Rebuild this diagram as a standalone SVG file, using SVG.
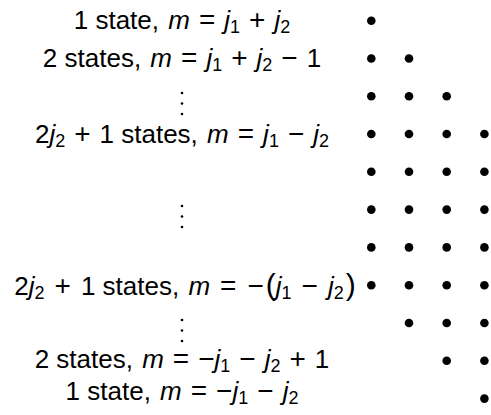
<svg xmlns="http://www.w3.org/2000/svg" width="491" height="415" viewBox="0 0 491 415">
<style>
.t{font-family:"Liberation Sans",Arial,sans-serif;font-size:26px;fill:#000;text-anchor:middle;white-space:pre}
.i{font-style:italic}
.s{font-size:18px}
.o{font-size:28px}
.p{font-size:30px}
.d{fill:#000}
.v{fill:#000}
</style>
<rect width="491" height="415" fill="#fff"/>
<g id="labels">
<text class="t" x="182" y="29">1 state, <tspan class="i" dx="2">m</tspan><tspan class="o" dx="9">=</tspan><tspan class="i" dx="9">j</tspan><tspan class="s" dy="4">1</tspan><tspan class="o" dy="-4" dx="9">+</tspan><tspan class="i" dx="9">j</tspan><tspan class="s" dy="4">2</tspan></text>
<text class="t" x="182" y="66.5">2 states, <tspan class="i" dx="2">m</tspan><tspan class="o" dx="9">=</tspan><tspan class="i" dx="9">j</tspan><tspan class="s" dy="4">1</tspan><tspan class="o" dy="-4" dx="9">+</tspan><tspan class="i" dx="9">j</tspan><tspan class="s" dy="4">2</tspan><tspan class="o" dy="-4" dx="9">−</tspan><tspan dx="9">1</tspan></text>
<g id="vdots1"><circle class="v" cx="182" cy="93" r="1.3"/><circle class="v" cx="182" cy="103.5" r="1.3"/><circle class="v" cx="182" cy="114" r="1.3"/></g>
<text class="t" x="182" y="143">2<tspan class="i">j</tspan><tspan class="s" dy="4">2</tspan><tspan class="o" dy="-4" dx="9">+</tspan><tspan dx="9">1 states, </tspan><tspan class="i" dx="2">m</tspan><tspan class="o" dx="9">=</tspan><tspan class="i" dx="9">j</tspan><tspan class="s" dy="4">1</tspan><tspan class="o" dy="-4" dx="9">−</tspan><tspan class="i" dx="9">j</tspan><tspan class="s" dy="4">2</tspan></text>
<g id="vdots2"><circle class="v" cx="182" cy="206" r="1.3"/><circle class="v" cx="182" cy="216.5" r="1.3"/><circle class="v" cx="182" cy="227" r="1.3"/></g>
<text class="t" x="185" y="294.5">2<tspan class="i">j</tspan><tspan class="s" dy="4">2</tspan><tspan class="o" dy="-4" dx="10">+</tspan><tspan dx="10">1 states, </tspan><tspan class="i" dx="2">m</tspan><tspan class="o" dx="10">=</tspan><tspan class="o" dx="11">−</tspan><tspan class="p" dx="2">(</tspan><tspan class="i">j</tspan><tspan class="s" dy="4">1</tspan><tspan class="o" dy="-4" dx="10">−</tspan><tspan class="i" dx="10">j</tspan><tspan class="s" dy="4">2</tspan><tspan class="p" dy="-4" dx="2">)</tspan></text>
<g id="vdots3"><circle class="v" cx="182" cy="320" r="1.3"/><circle class="v" cx="182" cy="330.5" r="1.3"/><circle class="v" cx="182" cy="341" r="1.3"/></g>
<text class="t" x="182" y="368">2 states, <tspan class="i" dx="2">m</tspan><tspan class="o" dx="9">=</tspan><tspan class="o" dx="9">−</tspan><tspan class="i">j</tspan><tspan class="s" dy="4">1</tspan><tspan class="o" dy="-4" dx="9">−</tspan><tspan class="i" dx="9">j</tspan><tspan class="s" dy="4">2</tspan><tspan class="o" dy="-4" dx="9">+</tspan><tspan dx="9">1</tspan></text>
<text class="t" x="182" y="400">1 state, <tspan class="i" dx="2">m</tspan><tspan class="o" dx="9">=</tspan><tspan class="o" dx="9">−</tspan><tspan class="i">j</tspan><tspan class="s" dy="4">1</tspan><tspan class="o" dy="-4" dx="9">−</tspan><tspan class="i" dx="9">j</tspan><tspan class="s" dy="4">2</tspan></text>
</g>
<g id="dots">
<circle class="d" cx="371.3" cy="20.7" r="4.3"/>
<circle class="d" cx="371.3" cy="58.5" r="4.3"/><circle class="d" cx="409" cy="58.5" r="4.3"/>
<circle class="d" cx="371.3" cy="96.3" r="4.3"/><circle class="d" cx="409" cy="96.3" r="4.3"/><circle class="d" cx="446.7" cy="96.3" r="4.3"/>
<circle class="d" cx="371.3" cy="134" r="4.3"/><circle class="d" cx="409" cy="134" r="4.3"/><circle class="d" cx="446.7" cy="134" r="4.3"/><circle class="d" cx="484.4" cy="134" r="4.3"/>
<circle class="d" cx="371.3" cy="171.8" r="4.3"/><circle class="d" cx="409" cy="171.8" r="4.3"/><circle class="d" cx="446.7" cy="171.8" r="4.3"/><circle class="d" cx="484.4" cy="171.8" r="4.3"/>
<circle class="d" cx="371.3" cy="209.6" r="4.3"/><circle class="d" cx="409" cy="209.6" r="4.3"/><circle class="d" cx="446.7" cy="209.6" r="4.3"/><circle class="d" cx="484.4" cy="209.6" r="4.3"/>
<circle class="d" cx="371.3" cy="247.4" r="4.3"/><circle class="d" cx="409" cy="247.4" r="4.3"/><circle class="d" cx="446.7" cy="247.4" r="4.3"/><circle class="d" cx="484.4" cy="247.4" r="4.3"/>
<circle class="d" cx="371.3" cy="285.2" r="4.3"/><circle class="d" cx="409" cy="285.2" r="4.3"/><circle class="d" cx="446.7" cy="285.2" r="4.3"/><circle class="d" cx="484.4" cy="285.2" r="4.3"/>
<circle class="d" cx="409" cy="323" r="4.3"/><circle class="d" cx="446.7" cy="323" r="4.3"/><circle class="d" cx="484.4" cy="323" r="4.3"/>
<circle class="d" cx="446.7" cy="360.8" r="4.3"/><circle class="d" cx="484.4" cy="360.8" r="4.3"/>
<circle class="d" cx="484.4" cy="398.6" r="4.3"/>
</g>
</svg>
